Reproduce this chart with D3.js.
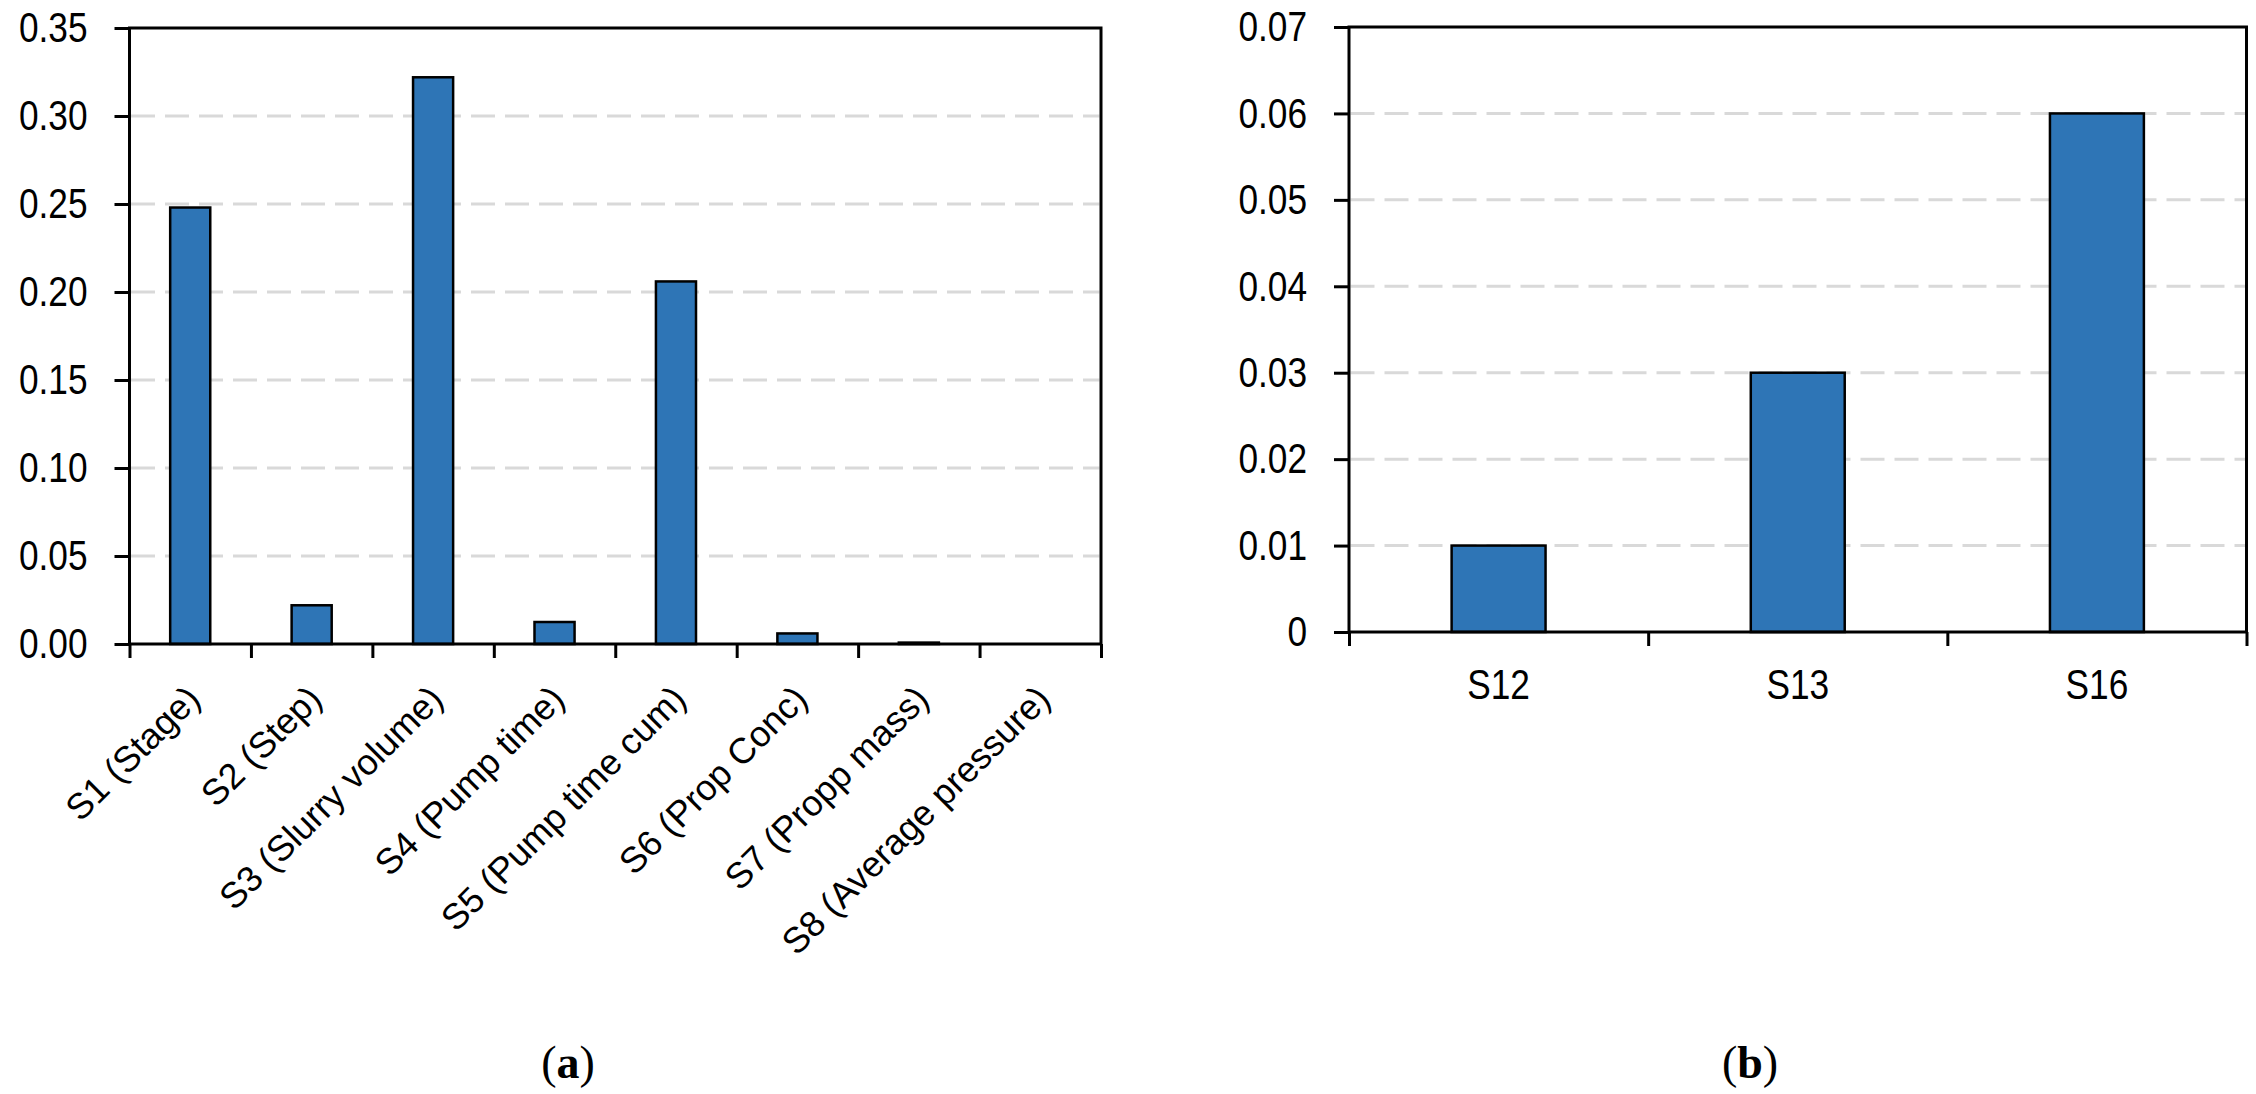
<!DOCTYPE html>
<html>
<head>
<meta charset="utf-8">
<script src="https://cdn.jsdelivr.net/npm/d3@7"></script>
<style>
  body { margin: 0; background: #fff; }
  svg text { font-family: "Liberation Sans", Arial, sans-serif; }
</style>
</head>
<body>
<div id="plot-container"></div>
<script>
// ##################################
//  DATA
// ##################################
const labelsA = [
  "S1 (Stage)",
  "S2 (Step)",
  "S3 (Slurry volume)",
  "S4 (Pump time)",
  "S5 (Pump time cum)",
  "S6 (Prop Conc)",
  "S7 (Propp mass)",
  "S8 (Average pressure)",
]
const valuesA = [0.248, 0.022, 0.322, 0.0125, 0.206, 0.006, 0.0008, 0]
const ticksA = [0, 0.05, 0.1, 0.15, 0.2, 0.25, 0.3, 0.35]

const labelsB = ["S12", "S13", "S16"]
const valuesB = [0.01, 0.03, 0.06]
const ticksB = [0, 0.01, 0.02, 0.03, 0.04, 0.05, 0.06, 0.07]

// ##################################
//  CONSTANTS
// ##################################
const width = 2256
const height = 1094
const barColor = "#2e75b6"
const gridColor = "#d9d9d9"
const fontSize = 43
const rotFontSize = 36
const narrow = 0.82 // no Arial Narrow installed, squeeze Liberation Sans instead

const svg = d3
  .select("div#plot-container")
  .append("svg")
  .attr("width", width)
  .attr("height", height)
  .attr("viewBox", [0, 0, width, height])

// squeeze a text horizontally around its own anchor point
const squeeze = (sel) =>
  sel.each(function () {
    const t = d3.select(this)
    const tx = +t.attr("x") || 0
    t.attr("x", 0).attr("transform", `translate(${tx}, 0) scale(${narrow}, 1)`)
  })

// one framed bar panel
const panel = ({ labels, values, ticks, fmt, left, right, top, bottom, pad, rotate, caption, captionX }) => {
  const g = svg.append("g")

  const x = d3.scaleBand().domain(labels).range([left, right]).paddingInner(pad).paddingOuter(pad / 2)
  const y = d3.scaleLinear().domain(d3.extent(ticks)).range([bottom, top])
  const xi = d3.scaleLinear().domain([0, labels.length]).range([left, right])

  // dashed grid (behind bars)
  g.append("g")
    .selectAll("line")
    .data(ticks.slice(1, -1))
    .join("line")
    .attr("x1", left + 1.5)
    .attr("x2", right - 1.5)
    .attr("y1", (d) => y(d))
    .attr("y2", (d) => y(d))
    .attr("stroke", gridColor)
    .attr("stroke-width", 3)
    .attr("stroke-dasharray", "24 10")

  // bars
  g.append("g")
    .selectAll("rect")
    .data(values)
    .join("rect")
    .attr("x", (d, i) => x(labels[i]))
    .attr("y", (d) => y(d))
    .attr("width", x.bandwidth())
    .attr("height", (d) => y(0) - y(d))
    .attr("fill", barColor)
    .attr("stroke", "#000")
    .attr("stroke-width", 2.5)

  // frame
  g.append("rect")
    .attr("x", left)
    .attr("y", top)
    .attr("width", right - left)
    .attr("height", bottom - top)
    .attr("fill", "none")
    .attr("stroke", "#000")
    .attr("stroke-width", 3)

  // y axis
  g.append("g")
    .attr("transform", `translate(${left}, 0)`)
    .call(d3.axisLeft(y).tickValues(ticks).tickFormat(fmt).tickSize(15).tickPadding(27))
    .call((g) => g.select(".domain").remove())
    .call((g) => g.selectAll(".tick line").attr("stroke", "#000").attr("stroke-width", 3))
    .call((g) =>
      g
        .selectAll(".tick text")
        .attr("font-size", fontSize)
        .attr("font-family", null)
        .attr("fill", "#000")
        .call(squeeze)
    )

  // x ticks at band edges
  g.append("g")
    .attr("transform", `translate(0, ${bottom})`)
    .call(d3.axisBottom(xi).tickValues(d3.range(labels.length + 1)).tickFormat("").tickSize(14))
    .call((g) => g.select(".domain").remove())
    .call((g) => g.selectAll(".tick line").attr("stroke", "#000").attr("stroke-width", 3))

  // category labels
  const lab = g.append("g")
    .selectAll("text")
    .data(labels)
    .join("text")
    .attr("fill", "#000")
    .text((d) => d)
  if (rotate) {
    lab.attr("text-anchor", "end")
      .attr("font-size", rotFontSize)
      .attr("transform", (d) => `translate(${x(d) + x.bandwidth() / 2 + 12}, ${bottom + 57}) rotate(-45)`)
  } else {
    lab.attr("text-anchor", "middle")
      .attr("font-size", fontSize)
      .attr("transform", (d) => `translate(${x(d) + x.bandwidth() / 2}, ${bottom + 67}) scale(${narrow}, 1)`)
  }

  // caption
  g.append("text")
    .attr("x", captionX)
    .attr("y", 1078)
    .attr("text-anchor", "middle")
    .attr("font-size", 46)
    .style("font-family", '"Liberation Serif", "Times New Roman", serif')
    .html('(<tspan font-weight="bold">' + caption + "</tspan>)")
}

panel({
  labels: labelsA,
  values: valuesA,
  ticks: ticksA,
  fmt: d3.format(".2f"),
  left: 129.5,
  right: 1101,
  top: 28,
  bottom: 644,
  pad: 0.67,
  rotate: true,
  caption: "a",
  captionX: 568,
})

panel({
  labels: labelsB,
  values: valuesB,
  ticks: ticksB,
  fmt: (d) => (d === 0 ? "0" : d3.format(".2f")(d)),
  left: 1349,
  right: 2246.5,
  top: 27,
  bottom: 632,
  pad: 0.686,
  rotate: false,
  caption: "b",
  captionX: 1750,
})
</script>
</body>
</html>
